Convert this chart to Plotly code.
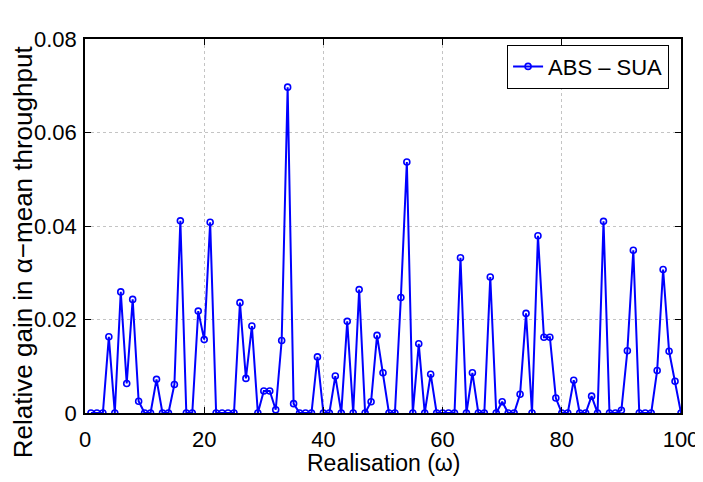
import plotly.graph_objects as go

realisation = list(range(1, 101))
gain = [
    0, 0, 0, 0.0163, 0, 0.0259, 0.0063, 0.0243, 0.0025, 0,
    0, 0.0072, 0, 0, 0.0061, 0.0411, 0, 0, 0.0218, 0.0157,
    0.0408, 0, 0, 0, 0, 0.0236, 0.0074, 0.0186, 0, 0.0047,
    0.0047, 0.0007, 0.0155, 0.0697, 0.0020, 0, 0, 0, 0.0120, 0,
    0, 0.0079, 0, 0.0196, 0, 0.0264, 0, 0.0024, 0.0166, 0.0086,
    0, 0, 0.0247, 0.0537, 0, 0.0148, 0, 0.0083, 0, 0,
    0, 0, 0.0332, 0, 0.0086, 0, 0, 0.0291, 0, 0.0024,
    0, 0, 0.0040, 0.0213, 0, 0.0379, 0.0162, 0.0162, 0.0032, 0,
    0, 0.0070, 0, 0, 0.0036, 0, 0.0410, 0, 0, 0.0006,
    0.0133, 0.0348, 0, 0, 0, 0.0091, 0.0307, 0.0132, 0.0068, 0,
]
series_name = "ABS \u2013 SUA"
x_ticks = [0, 20, 40, 60, 80, 100]
y_ticks = [0, 0.02, 0.04, 0.06, 0.08]
y_tick_text = ["0", "0.02", "0.04", "0.06", "0.08"]

FONT = "Liberation Sans, Arial, sans-serif"
BLUE = "#0000ff"

fig = go.Figure()
fig.add_trace(go.Scatter(
    x=realisation, y=gain, mode="lines+markers", name=series_name,
    line=dict(color=BLUE, width=2),
    marker=dict(symbol="circle-open", size=6, color=BLUE, line=dict(width=1.6, color=BLUE)),
))

axis_common = dict(
    showline=True, linecolor="black", linewidth=1.5, mirror="ticks",
    ticks="inside", ticklen=6, tickcolor="black", tickwidth=1,
    showgrid=True, gridcolor="#c4c4c4", griddash="dot", gridwidth=1,
    zeroline=False, automargin=False,
    tickfont=dict(family=FONT, size=22, color="black"),
)

fig.update_xaxes(range=[0, 100], tickvals=x_ticks, ticktext=[str(v) for v in x_ticks],
                 ticklabelstandoff=6, **axis_common)
fig.update_yaxes(range=[0, 0.08], tickvals=y_ticks, ticktext=y_tick_text,
                 ticklabelstandoff=2, **axis_common)

fig.add_annotation(
    text="Realisation (\u03c9)",
    xref="paper", yref="paper", x=0.5, y=-0.135, xanchor="center", yanchor="middle",
    showarrow=False, font=dict(family=FONT, size=23, color="black"),
)
fig.add_annotation(
    text="Relative gain in \u03b1\u2212mean throughput",
    xref="paper", yref="paper", x=-0.104, y=0.43, xanchor="center", yanchor="middle",
    textangle=-90, showarrow=False,
    font=dict(family=FONT, size=26, color="black"),
)

# page body has an 8px default margin: size the figure to fit the 703x482 window
fig.update_layout(
    width=695, height=474,
    margin=dict(l=77, r=22, t=31, b=69),
    paper_bgcolor="white", plot_bgcolor="white",
    showlegend=True,
    legend=dict(x=0.98, y=0.985, xanchor="right", yanchor="top",
                bgcolor="white", bordercolor="black", borderwidth=1,
                font=dict(family=FONT, size=22, color="black"),
                itemwidth=30, tracegroupgap=0),
)

fig.write_html("out.html")
